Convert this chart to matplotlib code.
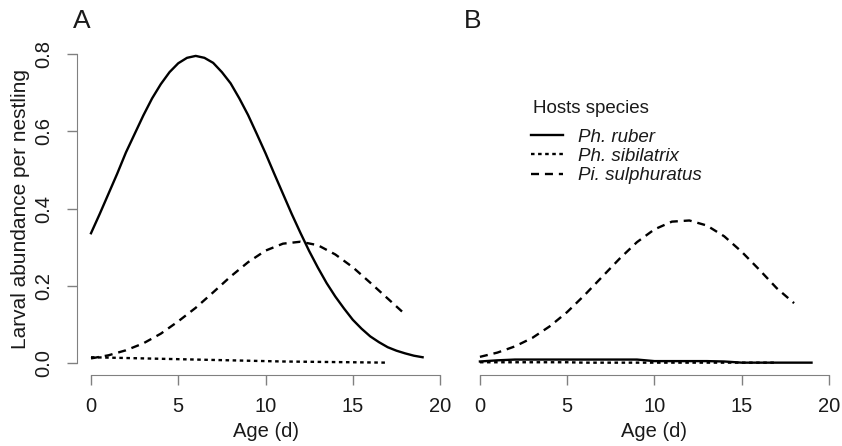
import matplotlib
matplotlib.use("Agg")
import matplotlib.pyplot as plt

plt.rcParams['font.family'] = ['Liberation Sans', 'DejaVu Sans']

# panel A: fitted larval abundance per nestling by host age
age_ruber_A = [i * 0.5 for i in range(39)]
ruber_A = [0.336, 0.386, 0.438, 0.490, 0.545, 0.593, 0.641, 0.685, 0.722, 0.753,
           0.776, 0.790, 0.795, 0.790, 0.777, 0.753, 0.724, 0.685, 0.642, 0.593,
           0.543, 0.490, 0.438, 0.386, 0.337, 0.290, 0.247, 0.207, 0.172, 0.141,
           0.112, 0.089, 0.069, 0.054, 0.041, 0.032, 0.025, 0.019, 0.015]
age_sibil = list(range(18))
sibil_A = [0.015, 0.014, 0.013, 0.012, 0.011, 0.010, 0.009, 0.008, 0.007, 0.006,
           0.005, 0.004, 0.0035, 0.003, 0.0025, 0.002, 0.0015, 0.001]
age_sulph = list(range(19))
sulph_A = [0.012, 0.020, 0.033, 0.051, 0.076, 0.108, 0.143, 0.183, 0.224, 0.261,
           0.291, 0.309, 0.314, 0.305, 0.281, 0.248, 0.208, 0.167, 0.126]

# panel B
age_ruber_B = list(range(20))
ruber_B = [0.004, 0.007, 0.009, 0.009, 0.009, 0.009, 0.009, 0.009, 0.009, 0.009,
           0.005, 0.005, 0.005, 0.005, 0.004, 0.001, 0.001, 0.001, 0.001, 0.001]
sibil_B = [0.002, 0.002, 0.002, 0.002, 0.002, 0.002, 0.001, 0.001, 0.001, 0.001,
           0.001, 0.001, 0.001, 0.001, 0.001, 0.001, 0.001, 0.001]
sulph_B = [0.016, 0.027, 0.043, 0.065, 0.095, 0.132, 0.176, 0.223, 0.270, 0.313,
           0.346, 0.366, 0.369, 0.356, 0.328, 0.288, 0.242, 0.194, 0.155]

hosts = ['Ph. ruber', 'Ph. sibilatrix', 'Pi. sulphuratus']
xticks = [0, 5, 10, 15, 20]
yticks = [0.0, 0.2, 0.4, 0.6, 0.8]

axcol = '#808080'
txtcol = '#1a1a1a'
lw = 1.7

fig = plt.figure(figsize=(8.42, 4.46), dpi=100)
axA = fig.add_axes([0.0915, 0.1583, 0.4477, 0.7484])
axB = fig.add_axes([0.5534, 0.1583, 0.4477, 0.7484])

panels = [(axA, age_ruber_A, ruber_A, sibil_A, sulph_A),
          (axB, age_ruber_B, ruber_B, sibil_B, sulph_B)]
for ax, ra, r, s, p in panels:
    ax.plot(ra, r, color='black', lw=lw, ls='-', label=hosts[0])
    ax.plot(age_sibil, s, color='black', lw=lw, ls=(0, (1.5, 1.5)), label=hosts[1])
    ax.plot(age_sulph, p, color='black', lw=lw, ls=(0, (3.4, 2.5)), label=hosts[2])
    ax.set_xlim(-0.8, 20.8)
    ax.set_ylim(-0.032, 0.832)
    ax.set_xticks(xticks)
    ax.set_xticklabels([str(t) for t in xticks])
    for side in ['top', 'right']:
        ax.spines[side].set_visible(False)
    ax.spines['bottom'].set_bounds(0, 20)
    ax.spines['bottom'].set_color(axcol)
    ax.spines['left'].set_color(axcol)
    ax.tick_params(axis='x', length=7.2, width=1, color=axcol, pad=8,
                   labelsize=14.5, labelcolor=txtcol)
    ax.set_xlabel('Age (d)', fontsize=14.5, labelpad=5, color=txtcol)
    ax.patch.set_visible(False)

axA.spines['left'].set_bounds(0, 0.8)
axA.set_yticks(yticks)
axA.set_yticklabels(['%.1f' % t for t in yticks], rotation=90, va='center')
axA.tick_params(axis='y', length=7.2, width=1, color=axcol, pad=10,
                labelsize=14.5, labelcolor=txtcol)
axA.set_ylabel('Larval abundance per nestling', fontsize=15, labelpad=3, color=txtcol)

axB.spines['left'].set_visible(False)
axB.set_yticks([])

axA.text(-0.012, 1.063, 'A', transform=axA.transAxes, fontsize=19, ha='left', va='center',
         color=txtcol)
axB.text(-0.006, 1.063, 'B', transform=axB.transAxes, fontsize=19, ha='left', va='center',
         color=txtcol)

# legend title drawn separately for the wider gap above the entries
fig.text(533 / 842, 1 - 108.5 / 446, 'Hosts species', fontsize=13.5, ha='left', va='center',
         color=txtcol)
leg = axB.legend(loc='upper left', bbox_to_anchor=(0.631, 0.712), bbox_transform=fig.transFigure,
                 frameon=False, fontsize=13.5,
                 handlelength=1.7, handletextpad=0.8, labelspacing=0.12, borderpad=0,
                 borderaxespad=0)
for t in leg.get_texts():
    t.set_fontstyle('italic')
    t.set_color(txtcol)

fig.savefig('out.png', dpi=100)
